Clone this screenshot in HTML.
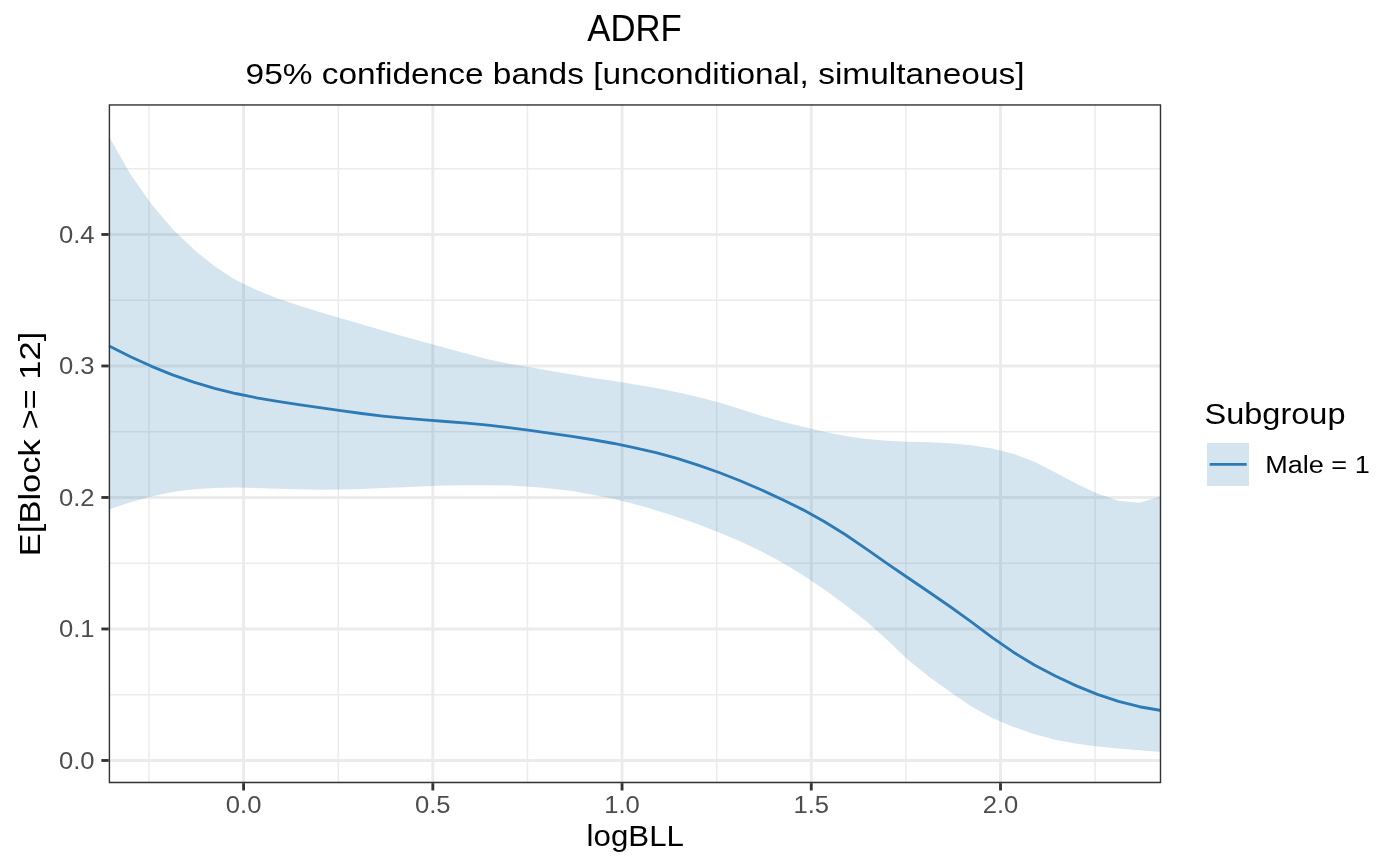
<!DOCTYPE html>
<html><head><meta charset="utf-8"><style>
html,body{margin:0;padding:0;background:#fff;}
svg{display:block;will-change:transform;}
text{font-family:"Liberation Sans",sans-serif;}
</style></head><body>
<svg width="1400" height="866" viewBox="0 0 1400 866">
<rect width="1400" height="866" fill="#fff"/>
<defs><clipPath id="pc"><rect x="108.7" y="104.25" width="1052.5" height="678.9"/></clipPath></defs>
<g clip-path="url(#pc)">
<line x1="108.7" x2="1161.2" y1="694.72" y2="694.72" stroke="#EBEBEB" stroke-width="1.42"/>
<line x1="108.7" x2="1161.2" y1="563.22" y2="563.22" stroke="#EBEBEB" stroke-width="1.42"/>
<line x1="108.7" x2="1161.2" y1="431.72" y2="431.72" stroke="#EBEBEB" stroke-width="1.42"/>
<line x1="108.7" x2="1161.2" y1="300.22" y2="300.22" stroke="#EBEBEB" stroke-width="1.42"/>
<line x1="108.7" x2="1161.2" y1="168.72" y2="168.72" stroke="#EBEBEB" stroke-width="1.42"/>
<line y1="104.25" y2="783.15" x1="148.99" x2="148.99" stroke="#EBEBEB" stroke-width="1.42"/>
<line y1="104.25" y2="783.15" x1="338.21" x2="338.21" stroke="#EBEBEB" stroke-width="1.42"/>
<line y1="104.25" y2="783.15" x1="527.44" x2="527.44" stroke="#EBEBEB" stroke-width="1.42"/>
<line y1="104.25" y2="783.15" x1="716.66" x2="716.66" stroke="#EBEBEB" stroke-width="1.42"/>
<line y1="104.25" y2="783.15" x1="905.89" x2="905.89" stroke="#EBEBEB" stroke-width="1.42"/>
<line y1="104.25" y2="783.15" x1="1095.11" x2="1095.11" stroke="#EBEBEB" stroke-width="1.42"/>
<line x1="108.7" x2="1161.2" y1="760.47" y2="760.47" stroke="#EBEBEB" stroke-width="2.84"/>
<line x1="108.7" x2="1161.2" y1="628.97" y2="628.97" stroke="#EBEBEB" stroke-width="2.84"/>
<line x1="108.7" x2="1161.2" y1="497.47" y2="497.47" stroke="#EBEBEB" stroke-width="2.84"/>
<line x1="108.7" x2="1161.2" y1="365.97" y2="365.97" stroke="#EBEBEB" stroke-width="2.84"/>
<line x1="108.7" x2="1161.2" y1="234.47" y2="234.47" stroke="#EBEBEB" stroke-width="2.84"/>
<line y1="104.25" y2="783.15" x1="243.6" x2="243.6" stroke="#EBEBEB" stroke-width="2.84"/>
<line y1="104.25" y2="783.15" x1="432.82" x2="432.82" stroke="#EBEBEB" stroke-width="2.84"/>
<line y1="104.25" y2="783.15" x1="622.05" x2="622.05" stroke="#EBEBEB" stroke-width="2.84"/>
<line y1="104.25" y2="783.15" x1="811.27" x2="811.27" stroke="#EBEBEB" stroke-width="2.84"/>
<line y1="104.25" y2="783.15" x1="1000.5" x2="1000.5" stroke="#EBEBEB" stroke-width="2.84"/>
<path d="M108.7,136.02 L130.52,174.24 L151.54,204.32 L172.56,228.96 L193.58,249.31 L214.6,266.33 L235.62,279.91 L256.64,290.11 L277.66,298.45 L298.68,305.52 L319.7,311.89 L340.72,318.16 L361.74,324.33 L382.76,330.41 L403.78,336.39 L424.8,342.27 L445.82,348.03 L466.84,353.67 L487.86,359.14 L508.88,363.66 L529.9,367.23 L550.92,371.03 L571.94,374.59 L592.96,377.88 L613.98,381.09 L635,384.41 L656.02,388.02 L677.04,392.13 L698.06,396.93 L719.08,402.59 L740.1,409.09 L761.12,415.74 L782.14,421.75 L803.16,426.83 L824.18,431.66 L845.2,436.08 L866.22,439.05 L887.24,440.75 L908.26,441.68 L929.28,442.37 L950.3,443.34 L971.32,445.14 L992.34,448.41 L1013.36,453.77 L1034.38,461.85 L1055.4,472.59 L1076.42,483.73 L1097.44,493.39 L1118.46,500.7 L1139.48,502.86 L1161.2,496.32 L1161.2,751.98 L1139.48,750.27 L1118.46,748.6 L1097.44,746.53 L1076.42,743.68 L1055.4,739.66 L1034.38,734.13 L1013.36,726.92 L992.34,717.88 L971.32,706.46 L950.3,691.89 L929.28,676.95 L908.26,659.95 L887.24,639.93 L866.22,621.16 L845.2,604.7 L824.18,589.5 L803.16,575.25 L782.14,562.4 L761.12,551.16 L740.1,541.26 L719.08,532.4 L698.06,524.3 L677.04,516.88 L656.02,510.17 L635,504.2 L613.98,499.01 L592.96,494.64 L571.94,491.11 L550.92,488.47 L529.9,486.67 L508.88,485.59 L487.86,485.13 L466.84,485.16 L445.82,485.58 L424.8,486.28 L403.78,487.14 L382.76,488.05 L361.74,488.88 L340.72,489.46 L319.7,489.66 L298.68,489.35 L277.66,488.67 L256.64,487.99 L235.62,487.62 L214.6,487.94 L193.58,489.28 L172.56,492.01 L151.54,496.39 L130.52,502.25 L108.7,509.62 Z" fill="#2C7BB6" fill-opacity="0.2"/>
<path d="M108.7,345.75 L130.52,356.67 L151.54,366.32 L172.56,374.89 L193.58,382.21 L214.6,388.37 L235.62,393.51 L256.64,397.78 L277.66,401.39 L298.68,404.59 L319.7,407.65 L340.72,410.66 L361.74,413.52 L382.76,416.07 L403.78,418.19 L424.8,419.9 L445.82,421.46 L466.84,423.13 L487.86,425.16 L508.88,427.62 L529.9,430.39 L550.92,433.35 L571.94,436.44 L592.96,439.76 L613.98,443.48 L635,447.77 L656.02,452.74 L677.04,458.48 L698.06,465.06 L719.08,472.5 L740.1,480.74 L761.12,489.73 L782.14,499.42 L803.16,509.86 L824.18,521.43 L845.2,534.52 L866.22,548.9 L887.24,563.66 L908.26,578.03 L929.28,592.21 L950.3,606.74 L971.32,621.92 L992.34,637.57 L1013.36,652.19 L1034.38,664.92 L1055.4,676.08 L1076.42,685.91 L1097.44,694.37 L1118.46,701.35 L1139.48,706.73 L1161.2,710.5" fill="none" stroke="#2C7BB6" stroke-width="2.84" stroke-linejoin="round" stroke-linecap="butt"/>
<rect x="108.7" y="104.25" width="1052.5" height="678.9" fill="none" stroke="#333333" stroke-width="2.84"/>
</g>
<g stroke="#333333" stroke-width="2.84">
<line x1="101.37" x2="108.7" y1="760.47" y2="760.47"/>
<line x1="101.37" x2="108.7" y1="628.97" y2="628.97"/>
<line x1="101.37" x2="108.7" y1="497.47" y2="497.47"/>
<line x1="101.37" x2="108.7" y1="365.97" y2="365.97"/>
<line x1="101.37" x2="108.7" y1="234.47" y2="234.47"/>
<line y1="783.15" y2="790.48" x1="243.6" x2="243.6"/>
<line y1="783.15" y2="790.48" x1="432.82" x2="432.82"/>
<line y1="783.15" y2="790.48" x1="622.05" x2="622.05"/>
<line y1="783.15" y2="790.48" x1="811.27" x2="811.27"/>
<line y1="783.15" y2="790.48" x1="1000.5" x2="1000.5"/>
</g>
<g fill="#4D4D4D" font-size="23.5">
<text x="94.6" y="768.67" text-anchor="end" textLength="35.6" lengthAdjust="spacingAndGlyphs">0.0</text>
<text x="94.6" y="637.17" text-anchor="end" textLength="35.6" lengthAdjust="spacingAndGlyphs">0.1</text>
<text x="94.6" y="505.67" text-anchor="end" textLength="35.6" lengthAdjust="spacingAndGlyphs">0.2</text>
<text x="94.6" y="374.17" text-anchor="end" textLength="35.6" lengthAdjust="spacingAndGlyphs">0.3</text>
<text x="94.6" y="242.67" text-anchor="end" textLength="35.6" lengthAdjust="spacingAndGlyphs">0.4</text>
<text x="243.6" y="812.6" text-anchor="middle" textLength="35.6" lengthAdjust="spacingAndGlyphs">0.0</text>
<text x="432.82" y="812.6" text-anchor="middle" textLength="35.6" lengthAdjust="spacingAndGlyphs">0.5</text>
<text x="622.05" y="812.6" text-anchor="middle" textLength="35.6" lengthAdjust="spacingAndGlyphs">1.0</text>
<text x="811.27" y="812.6" text-anchor="middle" textLength="35.6" lengthAdjust="spacingAndGlyphs">1.5</text>
<text x="1000.5" y="812.6" text-anchor="middle" textLength="35.6" lengthAdjust="spacingAndGlyphs">2.0</text>
</g>
<text x="634.55" y="40.9" text-anchor="middle" font-size="36" textLength="94.5" lengthAdjust="spacingAndGlyphs" fill="#000">ADRF</text>
<text x="635.05" y="83.6" text-anchor="middle" font-size="29.3" textLength="779" lengthAdjust="spacingAndGlyphs" fill="#000">95% confidence bands [unconditional, simultaneous]</text>
<text x="635.25" y="845.85" text-anchor="middle" font-size="29.3" textLength="97.3" lengthAdjust="spacingAndGlyphs" fill="#000">logBLL</text>
<text transform="translate(39.9,443.95) rotate(-90)" x="0" y="0" text-anchor="middle" font-size="29.3" textLength="224.5" lengthAdjust="spacingAndGlyphs" fill="#000">E[Block &gt;= 12]</text>
<text x="1204.5" y="424.3" font-size="29.3" textLength="141" lengthAdjust="spacingAndGlyphs" fill="#000">Subgroup</text>
<rect x="1207" y="443" width="42" height="43" fill="#2C7BB6" fill-opacity="0.2"/>
<line x1="1209.7" x2="1246.7" y1="464.4" y2="464.4" stroke="#2C7BB6" stroke-width="2.84"/>
<text x="1265.2" y="472.9" font-size="23.5" textLength="104.5" lengthAdjust="spacingAndGlyphs" fill="#000">Male = 1</text>
</svg>
</body></html>
